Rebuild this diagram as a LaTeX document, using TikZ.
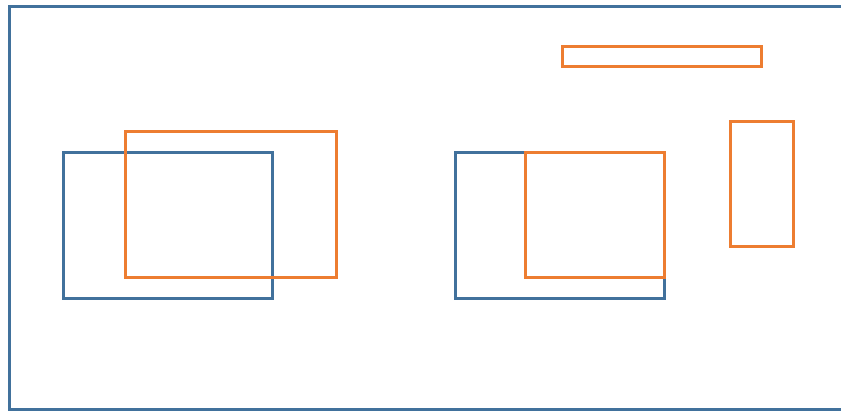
\documentclass[tikz,border=0pt]{standalone}
\definecolor{boxblue}{HTML}{41719C}
\definecolor{boxorange}{HTML}{ED7D31}
\begin{document}
\begin{tikzpicture}[x=1pt,y=-1pt,
  bluebox/.style={draw=boxblue,line width=3pt},
  orangebox/.style={draw=boxorange,line width=3pt}]
\useasboundingbox (0,0) rectangle (841,412);
\fill[white] (0,0) rectangle (841,412);
% outer frame (right edge off canvas)
\draw[bluebox] (860,6.5) -- (9,6.5) -- (9,409.5) -- (860,409.5);
% left pair
\draw[bluebox] (63,152) rectangle (272,298);
\draw[orangebox] (125,131) rectangle (336,277);
% middle pair
\draw[bluebox] (455,152) rectangle (664,298);
\draw[orangebox] (525,152) rectangle (664,277);
% right shapes
\draw[orangebox] (562,47) rectangle (761,67);
\draw[orangebox] (730,121.5) rectangle (793,246);
\end{tikzpicture}
\end{document}
